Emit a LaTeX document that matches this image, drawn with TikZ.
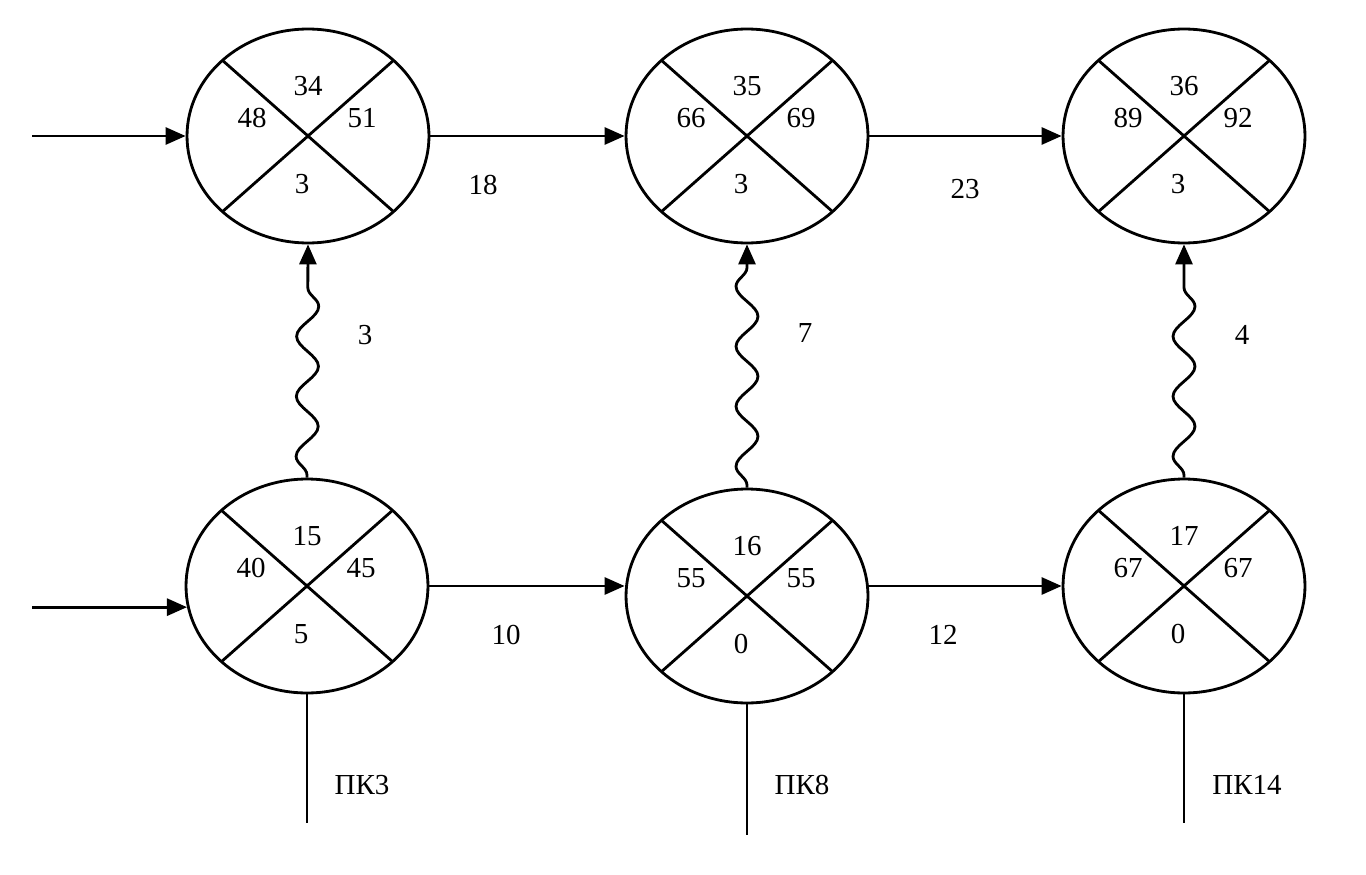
\documentclass[tikz,border=0pt]{standalone}
\usepackage{fontspec}
\setmainfont{Liberation Serif}
\usetikzlibrary{shapes.geometric,arrows.meta,decorations.pathmorphing,calc}

\begin{document}
\begin{tikzpicture}[x=0.02cm, y=-0.02cm, line width=1.6pt,
    event/.style={ellipse, draw, minimum width=4.84cm, minimum height=4.28cm, inner sep=0pt},
    lbl/.style={font=\fontsize{16.5}{18}\selectfont, inner sep=1pt},
    arr/.style={-{Triangle[length=0.4cm, width=0.34cm]}},
    wave/.style={arr, decorate, decoration={snake, amplitude=0.22cm, segment length=1.2cm, pre length=0.05cm, post length=0.46cm}}]
    \useasboundingbox (0,0) rectangle (1366,875);

    % top row of events
    \node[event] (t1) at (308,136) {};
    \node[event] (t2) at (747,136) {};
    \node[event] (t3) at (1184,136) {};

    % bottom row of events
    \node[event] (b1) at (307,586) {};
    \node[event] (b2) at (747,596) {};
    \node[event] (b3) at (1184,586) {};

    % crosses and the four numbers in each event
    \foreach \n/\a/\b/\c/\d in {t1/34/48/51/3, t2/35/66/69/3, t3/36/89/92/3,
                                b1/15/40/45/5, b2/16/55/55/0, b3/17/67/67/0} {
        \draw ($(\n.center)+(45:2.42cm and 2.14cm)$) -- ($(\n.center)+(225:2.42cm and 2.14cm)$);
        \draw ($(\n.center)+(135:2.42cm and 2.14cm)$) -- ($(\n.center)+(315:2.42cm and 2.14cm)$);
        \node[lbl] (\n-top) at ($(\n)+(0,-50)$) {\a};
        \node[lbl] (\n-left) at ($(\n)+(-56,-18)$) {\b};
        \node[lbl] (\n-right) at ($(\n)+(54,-18)$) {\c};
        \node[lbl] (\n-bot) at ($(\n)+(-6,48)$) {\d};
    }

    % top path
    \coordinate (in1) at (32,136);
    \draw[arr] (in1) -- (t1.west);
    \draw[arr] (t1.east) -- (t2.west);
    \draw[arr] (t2.east) -- (t3.west);
    \node[lbl] (w12) at (483,185) {18};
    \node[lbl] (w23) at (965,189) {23};

    % bottom path
    \coordinate (in2) at (32,607);
    \draw[arr] (b1.190 -| in2) -- (b1.190);
    \draw[arr] (b1.east) -- (b1.east -| b2.west);
    \draw[arr] (b2.east |- b3.west) -- (b3.west);
    \node[lbl] (v12) at (506,635) {10};
    \node[lbl] (v23) at (943,635) {12};

    % links between the rows
    \draw[wave] (b1.north) -- (t1.south);
    \draw[wave] (b2.north) -- (t2.south);
    \draw[wave] (b3.north) -- (t3.south);
    \node[lbl] (s1) at (365,335) {3};
    \node[lbl] (s2) at (805,333) {7};
    \node[lbl] (s3) at (1242,335) {4};

    % pickets
    \coordinate (d1) at (307,823);
    \coordinate (d2) at (747,835);
    \coordinate (d3) at (1184,823);
    \draw (b1.south) -- (d1);
    \draw (b2.south) -- (d2);
    \draw (b3.south) -- (d3);
    \node[lbl] (pk3) at (362,785) {ПК3};
    \node[lbl] (pk8) at (802,785) {ПК8};
    \node[lbl] (pk14) at (1247,785) {ПК14};
\end{tikzpicture}
\end{document}
